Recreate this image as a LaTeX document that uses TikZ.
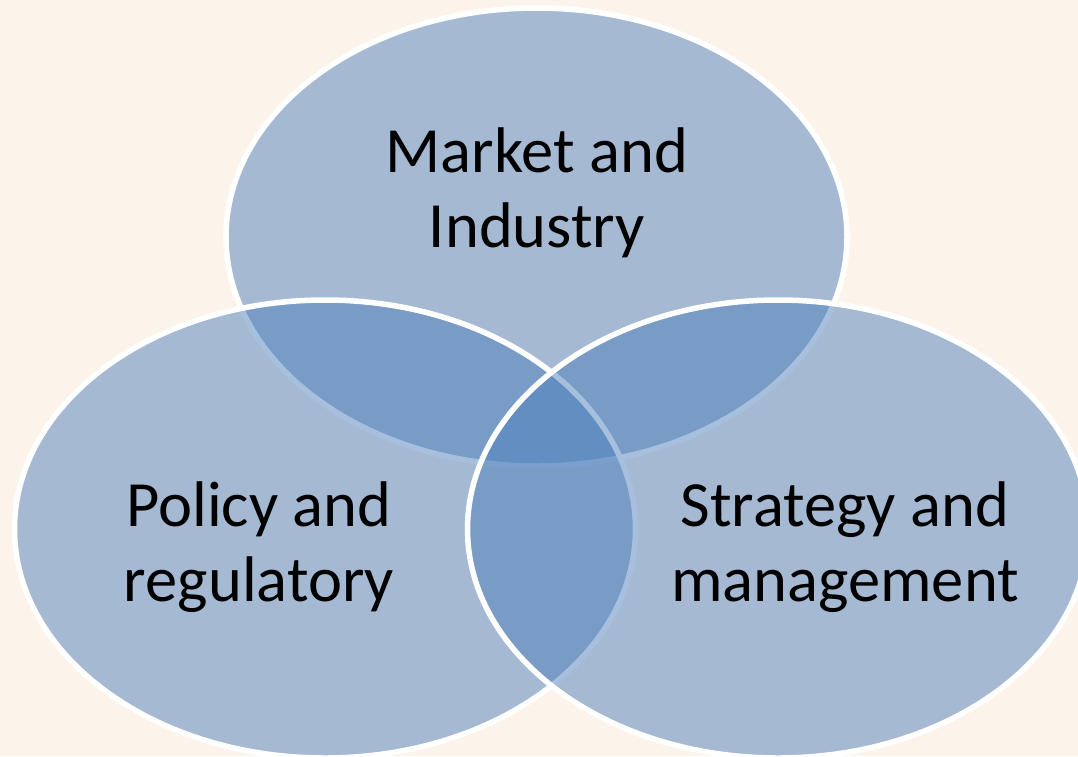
\documentclass[tikz,border=0pt]{standalone}
\usepackage{fontspec}
\setmainfont{Carlito}
\usetikzlibrary{shapes.geometric}
\definecolor{vennblue}{RGB}{79,129,189}
\definecolor{paper}{RGB}{252,243,234}

\begin{document}
\begin{tikzpicture}
    [x=1pt,y=-1pt,
    set/.style={ellipse,draw=white,line width=5.5pt,fill=vennblue,fill opacity=0.5,
        minimum width=621pt,minimum height=458pt,inner sep=0pt},
    settext/.style={align=center,inner sep=0pt,font=\fontsize{64.5}{75}\selectfont}]

    %\draw[help lines,step=100] (0,0) grid (1078,756);
    \useasboundingbox (0,0) rectangle (1078,756);
    \fill[paper] (0,0) rectangle (1078,756);
    \clip (0,0) rectangle (1078,756);

    \node[set] (market) at (536.5,237) {};
    \node[set] (policy) at (325,529) {};
    \node[set] (strategy) at (778,529) {};

    \node[settext] (markettext) at (537,193) {Market and\\Industry};
    \node[settext] (policytext) at (259,547) {Policy and\\regulatory};
    \node[settext] (strategytext) at (845,547) {Strategy and\\management};
\end{tikzpicture}
\end{document}
